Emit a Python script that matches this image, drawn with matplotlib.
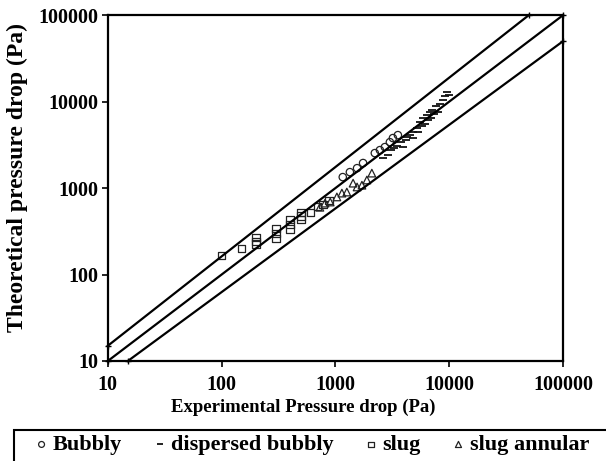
import numpy as np
import matplotlib
matplotlib.use('Agg')
import matplotlib.pyplot as plt
from matplotlib.patches import Rectangle

matplotlib.rcParams['font.family'] = 'Liberation Serif'
matplotlib.rcParams['font.weight'] = 'bold'

# 数据
bubbly_x = [1160, 1340, 1550, 1750, 2220, 2460, 2720, 3010, 3200, 3540]
bubbly_y = [1340, 1530, 1700, 1950, 2540, 2750, 2980, 3400, 3790, 4100]

disp_x = [2600, 2900, 3100, 3300, 3500, 3800, 3900, 4200, 4300, 4500, 4800, 4800,
          5200, 5300, 5500, 5800, 5900, 6100, 6400, 6500, 6800, 6900, 7000, 7300,
          7700, 8000, 8300, 8800, 9200, 9600, 10000]
disp_y = [2200, 2400, 2750, 2900, 3100, 3400, 3000, 3600, 3900, 4100, 4400, 3800,
          4900, 4400, 5800, 5200, 6400, 5500, 7000, 6100, 7600, 6400, 8000, 7200,
          8900, 7500, 9300, 10400, 11600, 12900, 11900]

slug_x = [100, 150, 200, 200, 200, 300, 300, 300, 400, 400, 400, 500, 500, 500,
          600, 700, 780, 880]
slug_y = [165, 200, 270, 240, 225, 340, 300, 260, 435, 380, 335, 520, 475, 430,
          525, 610, 650, 720]

annular_x = [730, 810, 900, 1030, 1140, 1260, 1430, 1550, 1710, 1890, 2090]
annular_y = [600, 670, 690, 790, 875, 900, 1140, 1030, 1080, 1240, 1490]

# 参考线
upper_x, upper_y = [10, 50000], [15, 100000]
mid_x, mid_y = [10, 100000], [10, 100000]
lower_x, lower_y = [15, 100000], [10, 50000]

ticks = [10, 100, 1000, 10000, 100000]
tick_labels = ['10', '100', '1000', '10000', '100000']

fig = plt.figure(figsize=(6.06, 4.61), dpi=100)
ax = fig.add_axes([0.178, 0.217, 0.751, 0.75])

for lx, ly in [(upper_x, upper_y), (mid_x, mid_y), (lower_x, lower_y)]:
    ax.plot(lx, ly, color='black', lw=1.6, marker='+', ms=5, mew=1, clip_on=False)

h1 = ax.scatter(bubbly_x, bubbly_y, marker='o', s=28, facecolors='none',
                edgecolors='#222222', linewidths=0.9, label='Bubbly')
h2 = ax.scatter(disp_x, disp_y, marker='_', s=30, color='#111111',
                linewidths=1.3, label='dispersed bubbly')
h3 = ax.scatter(slug_x, slug_y, marker='s', s=28, facecolors='none',
                edgecolors='#222222', linewidths=0.9, label='slug')
h4 = ax.scatter(annular_x, annular_y, marker='^', s=30, facecolors='none',
                edgecolors='#222222', linewidths=0.9, label='slug annular')

ax.set_xscale('log')
ax.set_yscale('log')
ax.set_xlim(10, 100000)
ax.set_ylim(10, 100000)
ax.set_xticks(ticks)
ax.set_xticklabels(tick_labels)
ax.set_yticks(ticks)
ax.set_yticklabels(tick_labels)
ax.minorticks_off()
ax.tick_params(direction='out', length=4, width=1.2, labelsize=14.5, pad=3)
ax.tick_params(axis='x', pad=6)
for s in ax.spines.values():
    s.set_linewidth(1.6)

ax.set_xlabel('Experimental Pressure drop (Pa)', fontsize=13.5, fontweight='bold')
ax.xaxis.set_label_coords(0.43, -0.11)
ax.set_ylabel('Theoretical pressure drop (Pa)', fontsize=17, fontweight='bold')
ax.yaxis.set_label_coords(-0.175, 0.53)

# 图例外框（延伸到图片边缘之外）
fig.patches.append(Rectangle((14 / 606, -0.05), 1.0, (461 - 430) / 461 + 0.05,
                             transform=fig.transFigure, fill=False,
                             edgecolor='black', linewidth=1.5))
leg = fig.legend(handles=[h1, h2, h3, h4], loc='center left', ncol=4,
                 bbox_to_anchor=(36 / 606, (461 - 445) / 461),
                 fontsize=16, frameon=False, markerscale=0.8,
                 handletextpad=0.25, handlelength=0.5, columnspacing=1.45,
                 borderpad=0.0, borderaxespad=0.0)

fig.savefig('out.png', dpi=100)
